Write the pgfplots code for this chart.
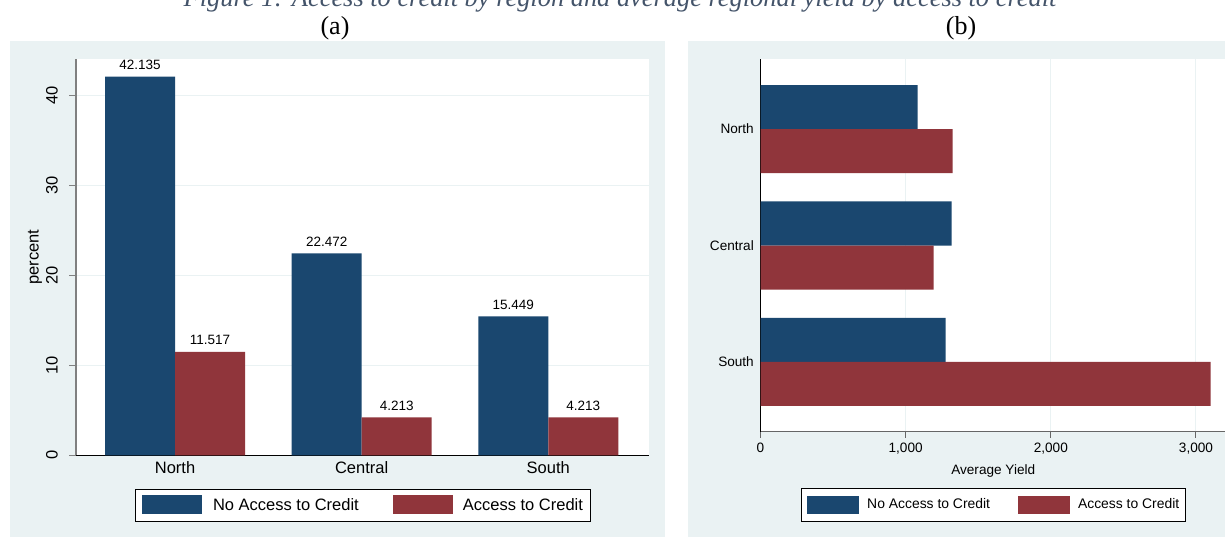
\documentclass[border=0pt]{standalone}
\usepackage{pgfplots}
\pgfplotsset{compat=1.18}
\usepackage{fontspec}
\setmainfont{Liberation Sans}
\newfontfamily\serifcap{Liberation Serif}
\definecolor{stnavy}{RGB}{26,71,111}
\definecolor{stmaroon}{RGB}{144,53,59}
\definecolor{stbg}{RGB}{234,242,243}
\definecolor{captblue}{RGB}{68,84,106}
\pgfplotsset{
  swA/.style={legend image code/.code={\fill[##1] (0pt,-9.5pt) rectangle (60pt,9.5pt);}},
  swB/.style={legend image code/.code={\fill[##1] (0pt,-9pt) rectangle (52pt,9pt);}},
}
\begin{document}
\begin{tikzpicture}
\useasboundingbox (0,0) rectangle (1225pt,537pt);
\clip (0,0) rectangle (1225pt,537pt);
\fill[stbg] (10pt,-5pt) rectangle (665pt,496pt);
\fill[stbg] (688pt,-5pt) rectangle (1240pt,496pt);
\node[anchor=base, text=captblue, font=\serifcap\itshape\fontsize{26.4}{30}\selectfont, inner sep=0pt] at (620pt,530.5pt) {Figure 1: Access to credit by region and average regional yield by access to credit};
\node[anchor=base, font=\serifcap\fontsize{26}{30}\selectfont, inner sep=0pt] at (335pt,502pt) {(a)};
\node[anchor=base, font=\serifcap\fontsize{26}{30}\selectfont, inner sep=0pt] at (961pt,502pt) {(b)};

\begin{axis}[
  at={(76pt,81.7pt)}, anchor=south west,
  scale only axis, width=573pt, height=396pt,
  xmin=-0.531, xmax=2.54, ymin=0, ymax=44.05,
  axis background/.style={fill=white},
  axis x line*=bottom, axis y line*=left,
  axis line style={-},
  x axis line style={black, line width=1pt},
  y axis line style={gray, line width=1.5pt},
  tick align=outside, major tick length=7pt,
  xtick={0,1,2}, xticklabels={North,Central,South},
  xtick style={draw=none},
  ytick={0,10,20,30,40},
  ytick style={gray, line width=1pt},
  ymajorgrids, grid style={stbg, line width=1pt},
  ticklabel style={font=\fontsize{16.5}{19}\selectfont},
  xticklabel style={anchor=base, yshift=-11.6pt},
  yticklabel style={rotate=90, anchor=south, inner xsep=0pt, inner ysep=11pt},
  /pgf/number format/assume math mode=true,
  ylabel={percent},
  every axis y label/.style={at={(axis description cs:0,0.5)}, xshift=-41pt, rotate=90, anchor=center, font=\fontsize{16.5}{19}\selectfont},
  point meta=explicit symbolic,
  nodes near coords,
  every node near coord/.append style={font=\fontsize{13.5}{16}\selectfont, anchor=south, inner sep=0pt, yshift=6.7pt},
  legend columns=2,
  legend style={at={(0.5,-0.1255)}, anchor=center, draw=black, line width=0.8pt, fill=white,
     font=\fontsize{16.5}{19}\selectfont, inner xsep=7pt, inner ysep=6.5pt,
     nodes={inner sep=0pt},
     /tikz/column 1/.style={column sep=11pt},
     /tikz/column 2/.style={column sep=34pt},
     /tikz/column 3/.style={column sep=10pt}},
]
\addplot[ybar, bar width=70pt, bar shift=-35pt, fill=stnavy, draw=none, swA,
  every node near coord/.append style={xshift=-35pt}] coordinates {(0,42.135) [42.135] (1,22.472) [22.472] (2,15.449) [15.449]};
\addplot[ybar, bar width=70pt, bar shift=35pt, fill=stmaroon, draw=none, swA,
  every node near coord/.append style={xshift=35pt}] coordinates {(0,11.517) [11.517] (1,4.213) [4.213] (2,4.213) [4.213]};
\legend{No Access to Credit, Access to Credit}
\end{axis}

\begin{axis}[
  at={(760.5pt,105.3pt)}, anchor=south west,
  scale only axis, width=465.5pt, height=372.4pt,
  xmin=0, xmax=3207, ymin=-0.6, ymax=2.6, y dir=reverse,
  axis background/.style={fill=white},
  axis x line*=bottom, axis y line*=left, axis line style={-},
  x axis line style={gray!80!black, line width=1pt},
  y axis line style={black, line width=1.2pt},
  tick align=outside, major tick length=6pt,
  xtick={0,1000,2000,3000}, ytick={0,1,2}, yticklabels={North,Central,South},
  ytick style={draw=none}, xtick style={gray!80!black, line width=1pt},
  xmajorgrids, grid style={stbg, line width=1pt},
  ticklabel style={font=\fontsize{13.6}{16}\selectfont},
  xticklabel style={anchor=base, yshift=-15.2pt},
  yticklabel style={anchor=east, inner xsep=0.5pt},
  /pgf/number format/1000 sep={,},
  /pgf/number format/assume math mode=true,
  xlabel={Average Yield},
  every axis x label/.style={at={(axis description cs:0.5,0)}, yshift=-43pt, anchor=base, font=\fontsize{13.6}{16}\selectfont},
  legend columns=2,
  legend style={at={(0.5,-0.1955)}, anchor=center, draw=black, line width=0.8pt, fill=white,
     font=\fontsize{13.9}{16}\selectfont, inner xsep=6pt, inner ysep=7.5pt,
     nodes={inner sep=0pt},
     /tikz/column 1/.style={column sep=8pt},
     /tikz/column 2/.style={column sep=28pt},
     /tikz/column 3/.style={column sep=8pt}},
]
\addplot[xbar, bar width=44pt, bar shift=22pt, fill=stnavy, draw=none, swB] coordinates {(1083,0) (1317,1) (1276,2)};
\addplot[xbar, bar width=44pt, bar shift=-22pt, fill=stmaroon, draw=none, swB] coordinates {(1324,0) (1193,1) (3101,2)};
\legend{No Access to Credit, Access to Credit}
\end{axis}
\end{tikzpicture}
\end{document}
